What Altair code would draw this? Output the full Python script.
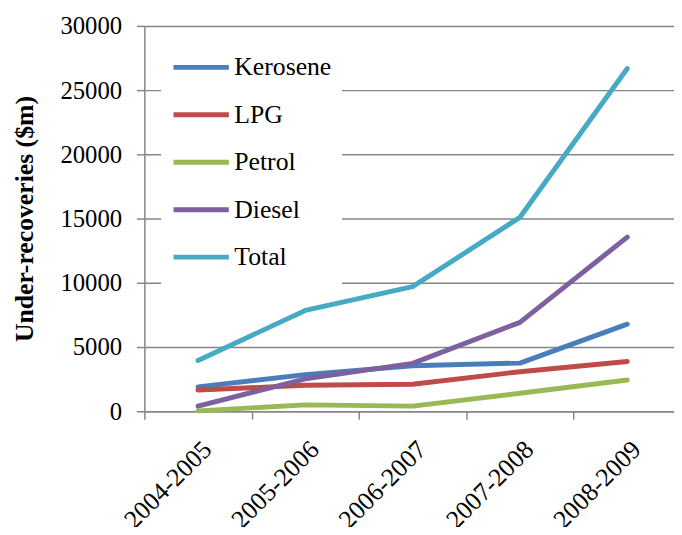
import altair as alt
import pandas as pd

years = ["2004-2005", "2005-2006", "2006-2007", "2007-2008", "2008-2009"]
series_names = ["Kerosene", "LPG", "Petrol", "Diesel", "Total"]
kerosene = [1900, 2850, 3550, 3750, 6780]
lpg = [1650, 2020, 2100, 3080, 3870]
petrol = [30, 500, 400, 1400, 2430]
diesel = [400, 2520, 3730, 6920, 13560]
total = [3950, 7850, 9700, 15100, 26680]
colors = ["#4a7ebb", "#be4b48", "#98b954", "#7d60a0", "#46aac5"]

rows = []
for name, vals in zip(series_names, [kerosene, lpg, petrol, diesel, total]):
    for i, (y, v) in enumerate(zip(years, vals)):
        rows.append({"Year": y, "idx": i, "Series": name, "Value": v})
df = pd.DataFrame(rows)

FONT = "Liberation Serif"
W = 536          # visible plot width (chart continues past the right page edge)
STEP = 108.6     # pixel width of one category band
year_js = "[" + ",".join("'%s'" % y for y in years) + "]"
edges = [i - 0.5 for i in range(len(years))]

chart = alt.Chart(df).mark_line(strokeWidth=5, strokeCap="round", strokeJoin="round").encode(
    x=alt.X("idx:Q", title=None,
            scale=alt.Scale(domain=[-0.5, -0.5 + W / STEP], nice=False, zero=False),
            axis=alt.Axis(values=edges, labelExpr=year_js + "[round(datum.value + 0.5)]",
                          labelOffset=STEP / 2, labelOverlap=False, labelFlush=False,
                          labelBound=False,
                          labelAngle=-45, grid=False,
                          tickSize=8, tickColor="#868686", tickWidth=1.5,
                          domainColor="#868686", domainWidth=1.5,
                          labelFont=FONT, labelFontSize=26, labelColor="black",
                          labelPadding=17, labelAlign="right", labelBaseline="top")),
    y=alt.Y("Value:Q", title="Under-recoveries ($m)",
            scale=alt.Scale(domain=[0, 30000], nice=False),
            axis=alt.Axis(values=[0, 5000, 10000, 15000, 20000, 25000, 30000],
                          format="d",
                          grid=True, gridColor="#868686", gridWidth=1.5,
                          tickSize=8, tickColor="#868686", tickWidth=1.5,
                          domainColor="#868686", domainWidth=1.5,
                          labelFont=FONT, labelFontSize=25, labelColor="black",
                          labelPadding=15,
                          titleFont=FONT, titleFontSize=26, titleFontWeight="bold",
                          titleColor="black", titlePadding=23)),
    color=alt.Color("Series:N", sort=series_names,
                    scale=alt.Scale(domain=series_names, range=colors),
                    legend=alt.Legend(title=None, orient="none", legendX=17, legendY=8,
                                      fillColor="white", padding=10,
                                      symbolType="stroke", symbolSize=3136,
                                      symbolStrokeWidth=5,
                                      labelFont=FONT, labelFontSize=26, labelColor="black",
                                      labelOffset=3, rowPadding=0, clipHeight=48)),
    order=alt.Order("idx:Q"),
).properties(
    width=W, height=390,
    autosize=alt.AutoSizeParams(type="none"),
    padding={"left": 138, "top": 15, "right": 0, "bottom": 114},
).configure_view(stroke=None)

chart.save("out.html", embed_options={"renderer": "svg", "actions": False})
